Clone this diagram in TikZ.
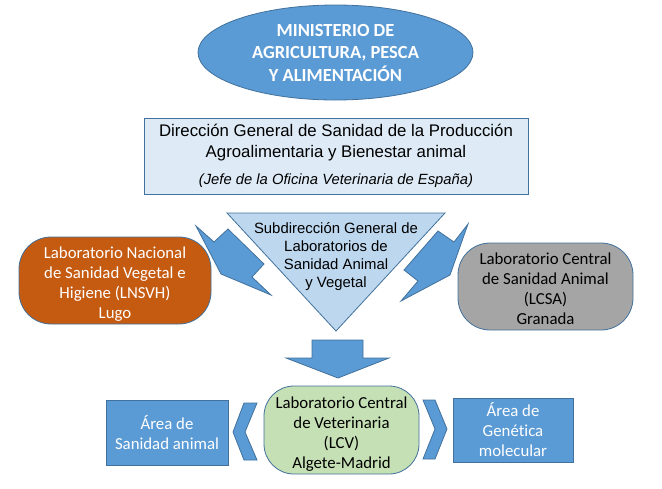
\documentclass[tikz,border=0pt]{standalone}
\usepackage{fontspec}
\setmainfont{Carlito}[Ligatures=NoCommon]
\newfontfamily\arialf{Liberation Sans}
\usetikzlibrary{shapes.geometric}
\definecolor{mblue}{HTML}{5B9BD5}
\definecolor{dblue}{HTML}{41719C}
\definecolor{lblue}{HTML}{DEEBF7}
\definecolor{tblue}{HTML}{BDD7EE}
\definecolor{morange}{HTML}{C55A11}
\definecolor{mgray}{HTML}{A5A5A5}
\definecolor{mgreen}{HTML}{C5E0B4}
\tikzset{
  bord/.style={draw=dblue, line width=0.8pt},
  blockarrow/.style={bord, fill=mblue, line join=miter},
  labbox/.style={bord, rounded corners=32pt, inner sep=0pt},
  labtext/.style={align=center, inner sep=0pt, font=\fontsize{16.8}{20}\selectfont},
  areabox/.style={bord, fill=mblue, align=center, inner sep=0pt, text=white,
     font=\fontsize{16.8}{20}\selectfont},
}
\begin{document}
\begin{tikzpicture}[x=1pt,y=-1pt]
\useasboundingbox (0,0) rectangle (662,488);
% Ministerio
\node[ellipse, bord, fill=mblue, minimum width=275pt, minimum height=95pt,
  inner sep=0pt, align=center, text=white,
  font=\fontsize{18.5}{22.5}\selectfont\bfseries] (min) at (335.5,52.5)
  {MINISTERIO DE\\AGRICULTURA, PESCA\\Y ALIMENTACIÓN};
% Direccion
\node[rectangle, bord, fill=lblue, minimum width=384pt, minimum height=76pt,
  inner sep=0pt, align=center, font=\arialf\fontsize{16.8}{21}\selectfont] (dir) at (336,156)
  {Dirección General de Sanidad de la Producción\\Agroalimentaria y Bienestar animal\\[6pt]
   {\fontsize{14.8}{16}\selectfont\itshape (Jefe de la Oficina Veterinaria de España)}};
% Triangle
\coordinate (t1) at (227,213);
\coordinate (t2) at (445,213);
\coordinate (t3) at (336,331);
\draw[bord, fill=tblue, line join=miter] (t1) -- (t2) -- (t3) -- cycle;
\node[align=center, inner sep=0pt, font=\arialf\fontsize{14.9}{18}\selectfont] (sub) at (336,257)
  {Subdirección General de\\Laboratorios de\\Sanidad Animal\\y Vegetal};
% Side arrows
\draw[blockarrow] (196,226) -- (214,242) -- (228,229) -- (264,264) -- (252,277) -- (271,295) -- (221,274) -- cycle;
\draw[blockarrow] (468,224) -- (454,242) -- (438,231) -- (404,270) -- (418,281) -- (401,301) -- (450,275) -- cycle;
% Labs
\node[labbox, fill=morange, minimum width=192pt, minimum height=87pt] (lnsvh) at (115,280.5) {};
\node[labtext, text=white] (lnsvht) at (115,284)
  {Laboratorio Nacional\\de Sanidad Vegetal e\\Higiene (LNSVH)\\Lugo};
\node[labbox, fill=mgray, minimum width=175pt, minimum height=87pt] (lcsa) at (545.5,286.5) {};
\node[labtext] (lcsat) at (545.5,288.5)
  {Laboratorio Central\\de Sanidad Animal\\(LCSA)\\Granada};
% Down arrow
\draw[blockarrow] (312,340) -- (363,340) -- (363,358) -- (389,358) -- (338,378) -- (286,358) -- (312,358) -- cycle;
% LCV
\node[labbox, fill=mgreen, rounded corners=30pt, minimum width=155pt, minimum height=88pt] (lcv) at (341.5,430) {};
\node[labtext] (lcvt) at (341.5,434.5)
  {Laboratorio Central\\de Veterinaria\\(LCV)\\Algete-Madrid};
% Areas
\node[areabox, minimum width=122pt, minimum height=65pt] (asa) at (167,432.5)
  {Área de\\Sanidad animal};
\node[areabox, minimum width=120pt, minimum height=64pt] (agm) at (513,430)
  {Área de\\Genética\\molecular};
% Chevrons
\draw[blockarrow] (233,432) -- (244,403) -- (257,403) -- (245,432) -- (257,460) -- (244,460) -- cycle;
\draw[blockarrow] (423,400) -- (435,400) -- (447,429) -- (435,459) -- (423,459) -- (435,429) -- cycle;
\end{tikzpicture}
\end{document}
